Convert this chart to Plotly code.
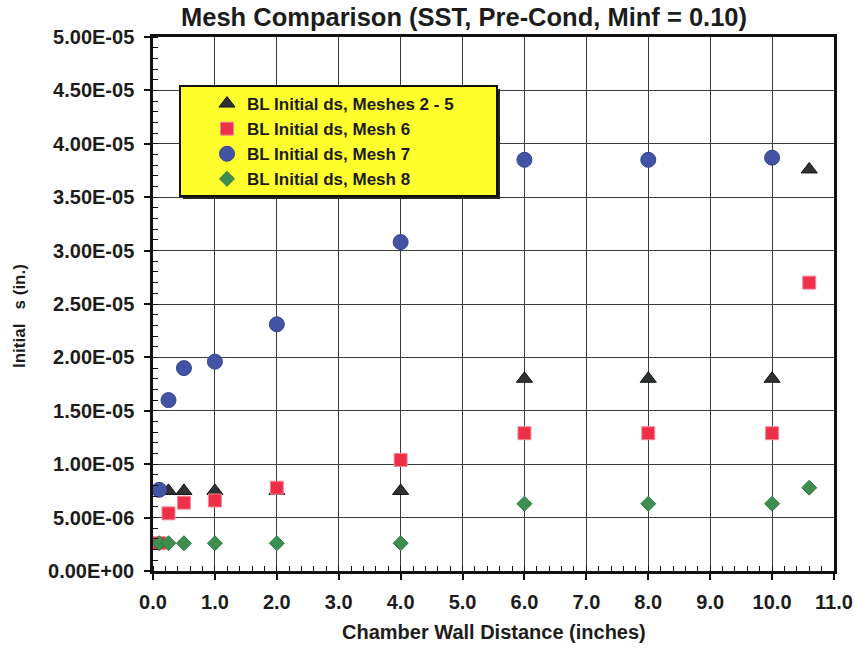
import plotly.graph_objects as go

# Sampling locations along the chamber wall (inches)
x_meshes_2_5 = [0.1, 0.25, 0.5, 1.0, 2.0, 4.0, 6.0, 8.0, 10.0, 10.6]
y_meshes_2_5 = [7.5e-6, 7.5e-6, 7.5e-6, 7.5e-6, 7.5e-6, 7.5e-6, 1.8e-5, 1.8e-5, 1.8e-5, 3.76e-5]

x_mesh_6 = [0.1, 0.25, 0.5, 1.0, 2.0, 4.0, 6.0, 8.0, 10.0, 10.6]
y_mesh_6 = [2.6e-6, 5.4e-6, 6.4e-6, 6.6e-6, 7.8e-6, 1.04e-5, 1.29e-5, 1.29e-5, 1.29e-5, 2.70e-5]

x_mesh_7 = [0.1, 0.25, 0.5, 1.0, 2.0, 4.0, 6.0, 8.0, 10.0]
y_mesh_7 = [7.6e-6, 1.6e-5, 1.9e-5, 1.96e-5, 2.31e-5, 3.08e-5, 3.85e-5, 3.85e-5, 3.87e-5]

x_mesh_8 = [0.1, 0.25, 0.5, 1.0, 2.0, 4.0, 6.0, 8.0, 10.0, 10.6]
y_mesh_8 = [2.6e-6, 2.6e-6, 2.6e-6, 2.6e-6, 2.6e-6, 2.6e-6, 6.3e-6, 6.3e-6, 6.3e-6, 7.8e-6]

series_names = [
    "BL Initial ds, Meshes 2 - 5",
    "BL Initial ds, Mesh 6",
    "BL Initial ds, Mesh 7",
    "BL Initial ds, Mesh 8",
]

y_tick_values = [0, 5e-6, 1e-5, 1.5e-5, 2e-5, 2.5e-5, 3e-5, 3.5e-5, 4e-5, 4.5e-5, 5e-5]
y_tick_labels = ["0.00E+00", "5.00E-06", "1.00E-05", "1.50E-05", "2.00E-05", "2.50E-05",
                 "3.00E-05", "3.50E-05", "4.00E-05", "4.50E-05", "5.00E-05"]

title_text = "Mesh Comparison (SST, Pre-Cond, Minf = 0.10)"
x_title = "Chamber Wall Distance (inches)"
y_title = "Initial\u00a0\u00a0\u00a0s (in.)"

# Page geometry (pixels)
W, H = 855, 650
ML, MR, MT, MB = 153, 21, 37, 79
PW, PH = W - ML - MR, H - MT - MB


def px_x(p):
    return (p - ML) / PW


def px_y(p):
    return (H - MB - p) / PH


FONT = "Liberation Sans, Arial, sans-serif"
INK = "#1c1c1c"

fig = go.Figure()

styles = [
    dict(symbol="triangle-up", size=14, color="#2e3232", line=dict(color="#111111", width=1)),
    dict(symbol="square", size=13, color="#ef2f48", line=dict(color="#f58a98", width=1)),
    dict(symbol="circle", size=15, color="#4354a5", line=dict(color="#34448e", width=1)),
    dict(symbol="diamond", size=11.5, color="#3d8e4f", line=dict(color="#2d7a3e", width=1)),
]

for xs, ys, name, st in zip(
    [x_meshes_2_5, x_mesh_6, x_mesh_7, x_mesh_8],
    [y_meshes_2_5, y_mesh_6, y_mesh_7, y_mesh_8],
    series_names,
    styles,
):
    fig.add_trace(go.Scatter(
        x=xs, y=ys, mode="markers", name=name, legendgroup=name,
        marker=st, cliponaxis=False,
    ))

# Legend panel: drop shadow and yellow box
fig.add_shape(type="rect", xref="paper", yref="paper", layer="above",
              x0=px_x(183), x1=px_x(500), y0=px_y(199), y1=px_y(89),
              fillcolor="#222222", line=dict(width=0))
fig.add_shape(type="rect", xref="paper", yref="paper", layer="above",
              x0=px_x(180), x1=px_x(497), y0=px_y(196), y1=px_y(86),
              fillcolor="#ffff2e", line=dict(color="#111111", width=2))

fig.add_annotation(text=x_title, xref="paper", yref="paper",
                   x=px_x(494), y=px_y(632), xanchor="center", yanchor="middle",
                   showarrow=False, font=dict(family=FONT, size=20, color=INK, weight="bold"))
fig.add_annotation(text=y_title, xref="paper", yref="paper", textangle=-90,
                   x=px_x(19), y=px_y(316), xanchor="center", yanchor="middle",
                   showarrow=False, font=dict(family=FONT, size=17, color=INK, weight="bold"))

axis_common = dict(
    showline=True, linecolor="#111111", linewidth=2.5, mirror=True,
    showgrid=True, gridcolor="#3c3c3c", gridwidth=1,
    ticks="outside", ticklen=6, tickwidth=1.5, tickcolor="#111111",
    tickfont=dict(family=FONT, size=20, color=INK, weight="bold"),
    zeroline=False,
)

fig.update_xaxes(
    range=[0, 11], tickmode="linear", tick0=0, dtick=1, tickformat=".1f",
    minor=dict(dtick=0.2, ticks="inside", ticklen=5, tickcolor="#111111", tickwidth=1.2, showgrid=False),
    ticklabelstandoff=5,
    **axis_common,
)
fig.update_yaxes(
    range=[0, 5e-5], tickmode="array", tickvals=y_tick_values, ticktext=y_tick_labels,
    minor=dict(dtick=1e-6, ticks="inside", ticklen=5, tickcolor="#111111", tickwidth=1.2, showgrid=False),
    ticklabelstandoff=6,
    **axis_common,
)

fig.update_layout(
    width=W, height=H,
    margin=dict(l=ML, r=MR, t=MT, b=MB, autoexpand=False),
    paper_bgcolor="white", plot_bgcolor="white",
    title=dict(text=title_text, x=464 / W, xanchor="center", xref="container",
               y=1 - 17 / H, yanchor="middle", yref="container",
               font=dict(family=FONT, size=25.5, color=INK, weight="bold")),
    showlegend=True,
    legend=dict(
        x=px_x(207), y=px_y(86), xanchor="left", yanchor="top",
        bgcolor="rgba(0,0,0,0)", borderwidth=0,
        font=dict(family=FONT, size=17, color=INK, weight="bold"),
        tracegroupgap=0, itemclick=False,
    ),
)

fig.write_html("out.html")
